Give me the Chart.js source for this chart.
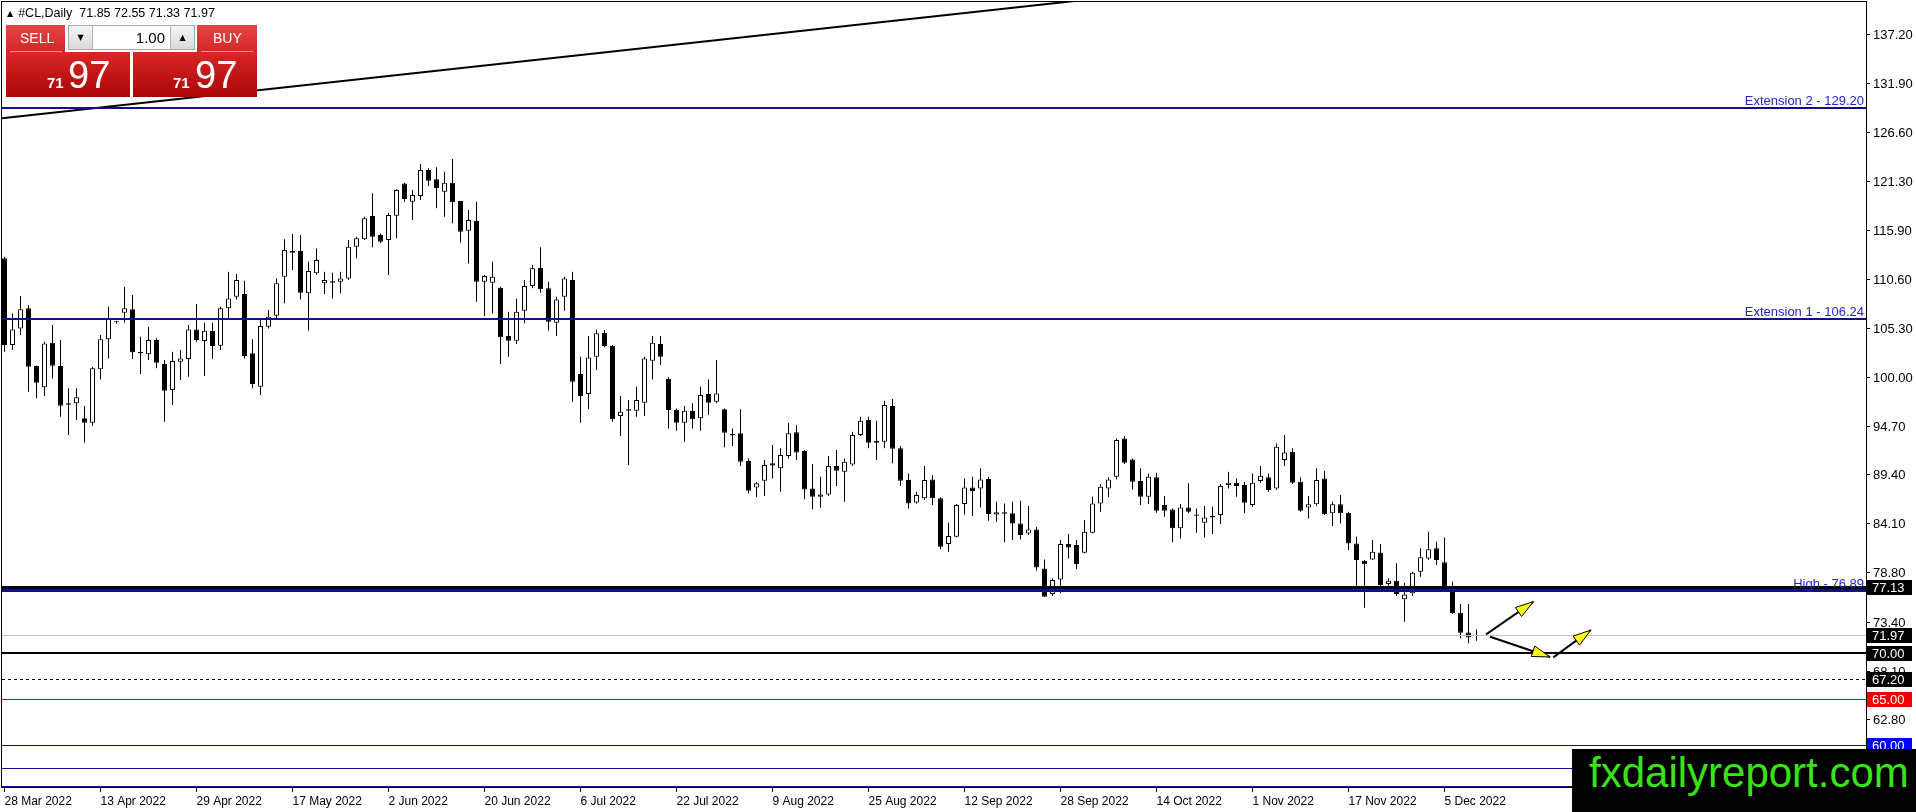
<!DOCTYPE html>
<html>
<head>
<meta charset="utf-8">
<title>#CL, Daily</title>
<script src="https://cdn.jsdelivr.net/npm/chart.js@4.4.1/dist/chart.umd.min.js"></script>
<style>
  html, body { margin: 0; padding: 0; background: #fff; }
  #wrap { position: relative; width: 1916px; height: 812px; overflow: hidden; font-family: "Liberation Sans", Arial, sans-serif; }
  #myChart { position: absolute; left: 0; top: 0; }
  #hdr { position: absolute; left: 7px; top: 6px; font-size: 12.5px; line-height: 14px; color: #000; white-space: pre; }
  #hdr .tri { font-family: "DejaVu Sans", sans-serif; font-size: 8px; vertical-align: 1px; margin-right: 5px; }
  .red { position: absolute; color: #fff; }
  #sellTab, #buyTab { top: 25px; height: 27px; background: linear-gradient(#e64545, #d22828); }
  #sellTab { left: 6px; width: 59px; }
  #buyTab { left: 197px; width: 60px; }
  .tabtxt { position: absolute; top: 5px; font-size: 14px; line-height: 16px; }
  .divider { position: absolute; top: 26px; height: 1px; background: rgba(255,255,255,0.5); }
  #sellBig, #buyBig { top: 52px; width: 124px; height: 45px; background: linear-gradient(#da2626, #a90606); }
  #sellBig { left: 6px; }
  #buyBig { left: 133px; }
  .sm { position: absolute; top: 23px; font-size: 15px; line-height: 15px; font-weight: bold; }
  .lg { position: absolute; top: 4px; font-size: 38px; line-height: 38px; }
  #spin { position: absolute; left: 68px; top: 25px; width: 125px; height: 23px; border: 1px solid #a8a8a8; background: #fff; }
  .sbtn { position: absolute; top: 0; width: 23px; height: 23px; background: linear-gradient(#f6f6f6, #dadada); font-family: "DejaVu Sans", sans-serif; font-size: 8px; line-height: 23px; text-align: center; color: #000; }
  #down { left: 0; border-right: 1px solid #b4b4b4; }
  #up { right: 0; border-left: 1px solid #b4b4b4; }
  #lot { position: absolute; right: 29px; top: 3px; font-size: 15px; line-height: 17px; color: #000; }
  #logo { position: absolute; left: 1572px; top: 749px; width: 344px; height: 63px; background: #000; }
  #logo span { position: absolute; left: 17px; top: 3px; font-size: 42px; line-height: 42px; color: #3ae21a; white-space: nowrap; }
</style>
</head>
<body>
<div id="wrap">
  <canvas id="myChart" width="1916" height="812"></canvas>
  <div id="hdr"></div>
  <div id="sellTab" class="red"><span class="tabtxt" style="left:14px">SELL</span><div class="divider" style="left:4px;width:52px"></div></div>
  <div id="spin"><div id="down" class="sbtn">▼</div><span id="lot">1.00</span><div id="up" class="sbtn">▲</div></div>
  <div id="buyTab" class="red"><span class="tabtxt" style="left:16px">BUY</span><div class="divider" style="left:4px;width:52px"></div></div>
  <div id="sellBig" class="red"><span class="sm" style="left:41px"></span><span class="lg" style="left:62px"></span></div>
  <div id="buyBig" class="red"><span class="sm" style="left:40px"></span><span class="lg" style="left:62px"></span></div>
  <div id="logo"><span>fxdailyreport.com</span></div>
</div>
<script>
const symbolName = "#CL,Daily";

// daily OHLC, bar 0 = 28 Mar 2022 ... bar 184 = 9 Dec 2022
const openPrices = [
  112.87, 103.45, 105.26, 107.44, 101.17, 98.86, 103.71, 101.17, 97.12, 97.12,
  95.49, 95.02, 100.81, 104.07, 105.92, 106.96, 107.33, 102.69, 102.44, 104.00,
  101.39, 98.57, 101.64, 101.93, 105.15, 103.89, 104.97, 103.38, 107.44, 108.70,
  108.99, 102.55, 98.93, 105.44, 106.64, 110.88, 113.66, 113.66, 109.07, 111.24,
  110.15, 110.37, 110.33, 110.69, 114.13, 114.93, 117.46, 115.40, 114.86, 117.50,
  121.01, 119.02, 119.64, 122.46, 121.45, 120.11, 121.09, 119.09, 115.87, 116.92,
  110.33, 110.22, 109.68, 104.43, 103.92, 107.18, 109.86, 111.85, 109.61, 105.88,
  108.70, 110.51, 100.30, 98.13, 102.19, 104.79, 103.34, 95.74, 96.47, 96.32,
  97.19, 101.75, 103.56, 99.76, 96.39, 95.02, 96.28, 95.49, 98.13, 97.30,
  96.47, 93.79, 93.86, 90.85, 87.99, 88.72, 90.60, 90.06, 91.40, 93.97,
  91.94, 87.88, 86.98, 87.23, 90.31, 89.69, 90.49, 93.68, 95.31, 93.02,
  92.95, 96.83, 92.23, 88.79, 86.36, 86.80, 88.86, 86.80, 81.84, 82.63,
  86.18, 87.99, 87.88, 88.90, 85.06, 85.28, 85.17, 84.08, 82.99, 83.43,
  79.19, 76.41, 78.00, 81.84, 81.73, 80.90, 83.07, 86.25, 87.88, 89.15,
  93.31, 91.03, 88.68, 86.98, 89.08, 86.07, 85.60, 83.54, 85.82, 85.06,
  84.15, 84.88, 84.99, 88.25, 88.50, 88.25, 86.07, 88.68, 89.08, 87.88,
  90.96, 91.87, 88.61, 85.82, 86.15, 88.97, 85.17, 86.15, 85.24, 81.91,
  80.03, 80.17, 80.93, 77.49, 77.85, 75.83, 76.48, 78.83, 80.28, 81.37,
  79.85, 77.13, 74.38, 72.24, 71.85
];
const highPrices = [
  113.05, 106.89, 108.78, 107.80, 101.24, 103.81, 105.63, 104.00, 98.75, 98.75,
  96.83, 101.10, 104.54, 107.62, 106.10, 109.79, 108.88, 104.36, 105.44, 104.18,
  101.82, 102.73, 102.91, 105.63, 107.91, 105.88, 105.88, 107.62, 111.42, 111.16,
  110.44, 104.07, 106.35, 107.25, 110.69, 114.93, 115.51, 115.40, 112.50, 113.95,
  111.42, 111.31, 111.42, 114.86, 115.22, 117.39, 119.93, 115.58, 117.83, 120.36,
  121.09, 120.29, 123.11, 122.64, 122.75, 122.28, 123.66, 119.09, 118.12, 119.02,
  111.06, 112.50, 109.79, 107.07, 108.52, 110.51, 112.14, 114.06, 110.33, 108.70,
  110.88, 111.42, 102.19, 104.43, 105.15, 105.08, 103.45, 97.91, 97.48, 98.93,
  102.19, 104.43, 104.43, 99.94, 96.57, 96.83, 97.12, 98.93, 99.72, 101.82,
  96.57, 94.40, 96.47, 91.14, 88.61, 90.96, 92.59, 92.23, 95.02, 94.76,
  92.05, 90.53, 89.15, 91.40, 92.05, 91.14, 94.04, 95.67, 95.67, 95.23,
  97.41, 97.59, 92.48, 89.51, 87.52, 90.31, 89.33, 86.91, 84.15, 86.18,
  88.97, 89.15, 90.06, 89.15, 86.43, 86.25, 86.43, 86.54, 85.96, 83.72,
  80.17, 78.11, 82.27, 82.92, 82.27, 84.44, 86.98, 88.35, 89.08, 93.31,
  93.57, 91.14, 90.06, 89.51, 89.58, 87.05, 85.71, 86.18, 88.43, 85.71,
  85.96, 85.89, 88.35, 89.69, 88.97, 88.61, 89.51, 90.31, 89.51, 92.77,
  93.68, 92.23, 89.08, 87.05, 90.06, 89.80, 86.43, 87.16, 85.35, 82.63,
  80.10, 82.27, 81.84, 78.11, 79.74, 77.64, 78.83, 81.37, 83.18, 82.09,
  82.56, 77.75, 75.32, 75.32, 72.55
];
const lowPrices = [
  102.73, 102.91, 104.54, 98.38, 97.66, 97.91, 99.83, 95.67, 93.68, 95.31,
  92.84, 94.69, 99.72, 102.00, 105.80, 105.88, 101.93, 100.30, 101.82, 100.92,
  95.13, 96.94, 99.65, 100.01, 103.81, 100.09, 101.93, 102.91, 106.35, 108.41,
  102.00, 98.75, 98.02, 105.26, 106.24, 107.98, 111.60, 108.41, 105.01, 111.06,
  108.99, 108.52, 109.07, 110.51, 112.87, 114.86, 114.06, 114.50, 111.06, 115.04,
  119.02, 117.03, 119.20, 120.72, 118.30, 117.39, 116.67, 114.57, 112.32, 108.16,
  106.60, 106.89, 101.39, 102.19, 103.56, 105.81, 109.61, 109.14, 105.01, 104.43,
  107.18, 97.30, 95.02, 96.47, 100.74, 103.20, 95.13, 93.57, 90.42, 95.67,
  95.74, 99.72, 101.28, 94.40, 94.15, 92.95, 94.40, 94.15, 95.85, 97.12,
  92.34, 92.48, 90.31, 87.34, 86.91, 87.05, 88.97, 87.52, 91.14, 90.96,
  86.69, 85.60, 85.78, 87.05, 88.14, 86.43, 90.31, 93.57, 92.23, 90.96,
  92.23, 90.60, 88.14, 85.71, 86.25, 86.62, 86.07, 81.26, 81.00, 82.56,
  85.01, 84.88, 85.82, 84.37, 84.26, 82.02, 82.27, 82.34, 82.81, 78.94,
  76.12, 76.19, 76.48, 80.28, 79.09, 80.82, 83.00, 85.35, 86.91, 88.86,
  90.53, 87.77, 86.07, 86.18, 85.24, 84.81, 82.02, 82.45, 85.17, 83.07,
  82.56, 82.92, 84.01, 87.88, 86.98, 85.17, 85.89, 88.50, 87.52, 87.70,
  90.31, 88.35, 85.35, 84.62, 85.96, 84.99, 83.79, 84.08, 81.19, 76.84,
  74.92, 80.10, 76.66, 77.20, 76.19, 73.40, 76.19, 78.29, 80.10, 79.56,
  76.77, 74.23, 71.59, 71.05, 71.33
];
const closePrices = [
  103.45, 105.15, 107.33, 101.10, 99.36, 103.63, 101.21, 96.86, 96.97, 97.77,
  95.02, 100.92, 104.07, 106.35, 105.95, 107.44, 102.66, 102.55, 104.00, 101.53,
  98.49, 101.72, 102.00, 105.15, 104.00, 105.01, 103.34, 107.44, 108.52, 110.51,
  102.26, 99.22, 105.52, 106.53, 110.15, 113.77, 113.48, 109.14, 111.49, 112.69,
  110.51, 110.22, 110.69, 114.13, 115.04, 117.21, 115.22, 114.68, 117.57, 120.29,
  119.31, 119.75, 122.46, 121.30, 120.47, 121.09, 118.95, 115.76, 117.03, 110.33,
  110.95, 110.88, 104.29, 103.92, 107.07, 109.86, 111.78, 109.50, 105.99, 108.41,
  110.69, 99.47, 97.91, 102.11, 104.72, 103.34, 95.38, 96.21, 96.32, 97.48,
  102.00, 103.71, 102.19, 96.39, 95.02, 96.32, 95.38, 98.02, 97.19, 98.20,
  93.93, 93.64, 90.78, 87.63, 88.43, 90.42, 90.38, 91.50, 93.86, 91.79,
  87.77, 86.98, 87.23, 90.31, 89.80, 90.78, 93.68, 95.23, 92.84, 92.84,
  96.93, 92.19, 88.72, 86.25, 87.16, 88.79, 86.80, 81.55, 82.71, 86.07,
  87.99, 87.59, 88.86, 85.09, 85.28, 85.13, 84.08, 82.81, 83.43, 79.30,
  76.12, 77.93, 81.84, 81.47, 79.63, 83.18, 86.25, 88.06, 88.86, 93.13,
  90.67, 88.61, 86.98, 89.15, 85.46, 85.46, 83.54, 85.82, 85.35, 84.91,
  84.73, 84.73, 88.14, 88.50, 88.14, 86.33, 88.50, 89.26, 87.70, 92.41,
  91.79, 88.50, 85.46, 86.15, 88.79, 85.09, 86.15, 85.17, 81.91, 80.10,
  79.63, 81.00, 77.38, 77.85, 76.41, 76.37, 78.72, 80.39, 81.26, 80.10,
  77.02, 74.31, 72.21, 71.70, 71.97
];

// time axis labels (every 12 bars) and price axis labels
const dateTickBars = [0, 12, 24, 36, 48, 60, 72, 84, 96, 108, 120, 132, 144, 156, 168, 180];
const dateTickLabels = ['28 Mar 2022', '13 Apr 2022', '29 Apr 2022', '17 May 2022', '2 Jun 2022', '20 Jun 2022',
  '6 Jul 2022', '22 Jul 2022', '9 Aug 2022', '25 Aug 2022', '12 Sep 2022', '28 Sep 2022',
  '14 Oct 2022', '1 Nov 2022', '17 Nov 2022', '5 Dec 2022'];
const priceTicks = [137.20, 131.90, 126.60, 121.30, 115.90, 110.60, 105.30, 100.00, 94.70, 89.40,
  84.10, 78.80, 73.40, 68.10, 62.80, 57.50];

// horizontal levels drawn on the chart
const levelPrices = [129.20, 106.24, 71.97, 77.13, 76.89, 70.00, 67.20, 65.00, 60.00, 57.50, 55.60];
const levelNames = ['Extension 2', 'Extension 1', '', '', 'High', '', '', '', '', '', ''];

// trend line anchors (bar index, price)
const trendBars = [-0.31, 150];
const trendPrices = [128.08, 142.36];

// projection arrows (bar index, price) from -> to
const arrowFromBars = [185.2, 185.7, 193.6];
const arrowFromPrices = [72.03, 71.77, 69.53];
const arrowToBars = [191.1, 193.2, 198.3];
const arrowToPrices = [75.57, 69.57, 72.50];

// styles, kept apart from the data
const levelStyles = [
  { color: '#10108c', width: 2 },
  { color: '#10108c', width: 2 },
  { color: '#c0c0c0', width: 1, tag: '#000000' },
  { color: '#000000', width: 3, tag: '#000000' },
  { color: '#10108c', width: 3 },
  { color: '#000000', width: 2, tag: '#000000' },
  { color: '#000000', width: 1, dash: [3, 3], tag: '#000000' },
  { color: '#d40000', width: 1, tag: '#ee0000' },
  { color: '#10108c', width: 1, tag: '#0000ff' },
  { color: '#10108c', width: 1 },
  { color: '#10108c', width: 1 }
];
const FONT = '"Liberation Sans", Arial, sans-serif';

const last = closePrices.length - 1;
document.getElementById('hdr').innerHTML = '<span class="tri">▲</span>' + symbolName + '  ' +
  [openPrices[last], highPrices[last], lowPrices[last], closePrices[last]].map(v => v.toFixed(2)).join(' ');
const bidTxt = closePrices[last].toFixed(2).split('.');
document.querySelectorAll('.sm').forEach(e => e.textContent = bidTxt[0]);
document.querySelectorAll('.lg').forEach(e => e.textContent = bidTxt[1]);

const overlay = {
  id: 'overlay',
  afterDatasetsDraw(chart) {
    const { ctx, chartArea: a, scales: { x, y } } = chart;
    ctx.save();
    ctx.beginPath();
    ctx.rect(a.left, a.top, a.right - a.left, a.bottom - a.top);
    ctx.clip();
    levelPrices.forEach((p, k) => {
      const st = levelStyles[k];
      const py = Math.round(y.getPixelForValue(p)) + (st.width % 2 ? 0.5 : 0);
      ctx.strokeStyle = st.color;
      ctx.lineWidth = st.width;
      ctx.setLineDash(st.dash || []);
      ctx.beginPath();
      ctx.moveTo(a.left, py);
      ctx.lineTo(a.right, py);
      ctx.stroke();
      if (levelNames[k]) {
        ctx.setLineDash([]);
        ctx.fillStyle = '#2424c8';
        ctx.font = '13px ' + FONT;
        ctx.textAlign = 'right';
        ctx.textBaseline = 'alphabetic';
        ctx.fillText(levelNames[k] + ' - ' + p.toFixed(2), a.right - 2, py - 3);
      }
    });
    ctx.setLineDash([]);

    // arrows
    arrowFromBars.forEach((b, k) => {
      const x0 = x.getPixelForValue(b), y0 = y.getPixelForValue(arrowFromPrices[k]);
      const x1 = x.getPixelForValue(arrowToBars[k]), y1 = y.getPixelForValue(arrowToPrices[k]);
      ctx.strokeStyle = '#000';
      ctx.lineWidth = 2;
      ctx.beginPath();
      ctx.moveTo(x0, y0);
      ctx.lineTo(x1, y1);
      ctx.stroke();
      const ang = Math.atan2(y1 - y0, x1 - x0);
      const len = 18, half = 5.5;
      const bx = x1 - Math.cos(ang) * len, by = y1 - Math.sin(ang) * len;
      ctx.beginPath();
      ctx.moveTo(x1, y1);
      ctx.lineTo(bx - Math.sin(ang) * half, by + Math.cos(ang) * half);
      ctx.lineTo(bx + Math.sin(ang) * half, by - Math.cos(ang) * half);
      ctx.closePath();
      ctx.fillStyle = '#ffff00';
      ctx.fill();
      ctx.lineWidth = 1;
      ctx.stroke();
    });
    ctx.restore();
  },
  afterDraw(chart) {
    const { ctx, chartArea: a, scales: { x, y } } = chart;
    ctx.save();
    // frame
    ctx.strokeStyle = '#000';
    ctx.lineWidth = 1;
    ctx.strokeRect(a.left - 0.5, a.top - 0.5, a.right - a.left + 1, a.bottom - a.top + 1);

    ctx.fillStyle = '#000';
    // time axis
    ctx.font = '12px ' + FONT;
    ctx.textAlign = 'left';
    ctx.textBaseline = 'top';
    dateTickBars.forEach((b, k) => {
      const px = Math.round(x.getPixelForValue(b)) - 0.5;
      ctx.beginPath();
      ctx.moveTo(px, a.bottom);
      ctx.lineTo(px, a.bottom + 5);
      ctx.stroke();
      ctx.fillText(dateTickLabels[k], px, a.bottom + 9);
    });
    // price axis
    ctx.font = '13px ' + FONT;
    ctx.textBaseline = 'middle';
    priceTicks.forEach((v) => {
      const py = Math.round(y.getPixelForValue(v)) + 0.5;
      ctx.beginPath();
      ctx.moveTo(a.right, py);
      ctx.lineTo(a.right + 4, py);
      ctx.stroke();
      ctx.fillText(v.toFixed(2), a.right + 7, py + 1);
    });
    // price tags on the axis
    levelPrices.forEach((p, k) => {
      const st = levelStyles[k];
      if (!st.tag) return;
      const py = Math.round(y.getPixelForValue(p));
      ctx.fillStyle = st.tag;
      ctx.fillRect(a.right + 1, py - 7, 45, 15);
      ctx.fillStyle = '#fff';
      ctx.fillText(p.toFixed(2), a.right + 6, py + 1);
    });
    ctx.restore();
  }
};

const ctx = document.getElementById('myChart').getContext('2d');
const bodyColors = closePrices.map((c, i) => c >= openPrices[i] ? '#ffffff' : '#000000');

new Chart(ctx, {
  type: 'bar',
  data: {
    datasets: [
      {
        type: 'line',
        label: 'trend',
        data: trendBars.map((b, i) => ({ x: b, y: trendPrices[i] })),
        borderColor: '#000',
        borderWidth: 2,
        pointRadius: 0,
        order: 1
      },
      {
        label: 'body',
        data: openPrices.map((o, i) => ({ x: i, y: [o, closePrices[i]] })),
        backgroundColor: bodyColors,
        borderColor: '#000',
        borderWidth: 1,
        borderSkipped: false,
        barThickness: 5,
        minBarLength: 1,
        inflateAmount: 0,
        grouped: false,
        order: 2
      },
      {
        label: 'wick',
        data: lowPrices.map((l, i) => ({ x: i, y: [l, highPrices[i]] })),
        backgroundColor: '#000',
        borderWidth: 0,
        barThickness: 1,
        inflateAmount: 0,
        grouped: false,
        order: 3
      }
    ]
  },
  plugins: [overlay],
  options: {
    responsive: false,
    animation: false,
    devicePixelRatio: 1,
    layout: { autoPadding: false, padding: { left: 2, top: 2, right: 0, bottom: 0 } },
    plugins: { legend: { display: false }, tooltip: { enabled: false } },
    scales: {
      x: {
        type: 'linear',
        offset: false,
        min: -0.3125,
        max: 232.6875,
        afterFit: (s) => { s.height = 25; s.paddingLeft = 0; s.paddingRight = 0; },
        grid: { display: false },
        border: { display: false },
        ticks: { display: false }
      },
      y: {
        position: 'right',
        min: 55.45,
        max: 140.71,
        afterFit: (s) => { s.width = 50; s.paddingTop = 0; s.paddingBottom = 0; },
        grid: { display: false },
        border: { display: false },
        ticks: { display: false }
      }
    }
  }
});
</script>
</body>
</html>
